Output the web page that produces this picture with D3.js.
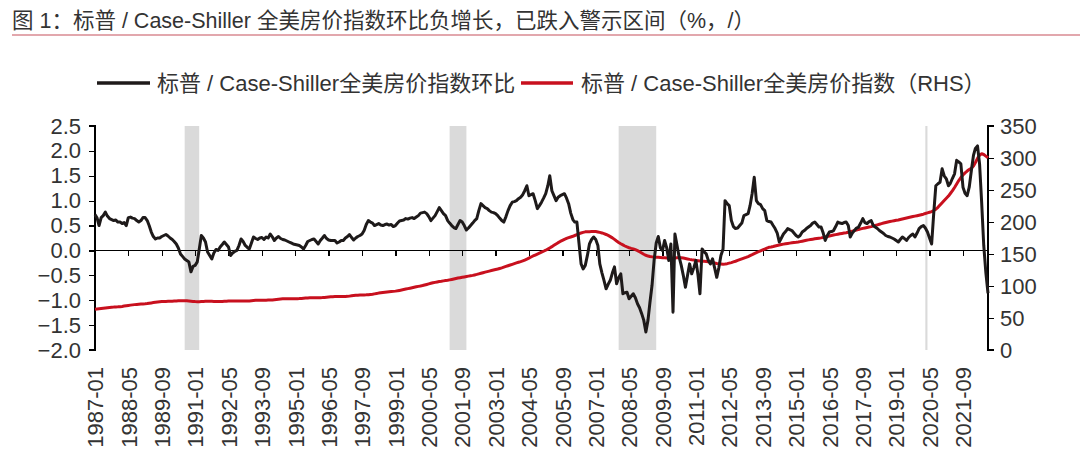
<!DOCTYPE html>
<html>
<head>
	<meta charset="utf-8" />
	<title>标普 / Case-Shiller 全美房价指数</title>
	<script src="https://cdn.jsdelivr.net/npm/d3@7"></script>
<style>
	body { margin: 0; background: #fff; }
	text { font-family: "Liberation Sans", Arial, "Noto Sans CJK SC", sans-serif; fill: #333; }
	.axis path, .axis line { stroke: #000; stroke-width: 1.3; shape-rendering: crispEdges; }
	.axis text { font-size: 22px; fill: #333; }
</style>
</head>
<body>
<script>
// serie mensual desde 1987-01 hasta 2022-09
var firstMonth = "1987-01";

// 环比 (%), un valor por mes
var momChange = [
	0.72, 0.65, 0.50, 0.66, 0.70, 0.77, 0.69, 0.64, 0.62, 0.60, 0.61, 0.57,
	0.57, 0.54, 0.56, 0.50, 0.66, 0.67, 0.65, 0.64, 0.60, 0.57, 0.60, 0.66,
	0.66, 0.60, 0.50, 0.37, 0.28, 0.23, 0.25, 0.25, 0.28, 0.30, 0.32, 0.29,
	0.25, 0.22, 0.18, 0.13, 0.05, -0.07, -0.12, -0.17, -0.20, -0.23, -0.43, -0.32,
	-0.30, -0.23, 0.02, 0.30, 0.25, 0.17, -0.03, -0.10, -0.17, -0.05, 0.02, 0.00,
	0.07, 0.12, 0.17, 0.12, 0.07, -0.10, -0.05, -0.02, 0.00, 0.10, 0.23, 0.18,
	0.10, 0.06, 0.03, 0.15, 0.27, 0.24, 0.22, 0.25, 0.26, 0.22, 0.27, 0.25,
	0.33, 0.27, 0.20, 0.25, 0.28, 0.24, 0.22, 0.21, 0.19, 0.17, 0.15, 0.13,
	0.12, 0.11, 0.10, 0.07, 0.03, 0.10, 0.18, 0.20, 0.22, 0.23, 0.18, 0.13,
	0.20, 0.25, 0.30, 0.24, 0.21, 0.20, 0.20, 0.20, 0.15, 0.17, 0.20, 0.20,
	0.25, 0.28, 0.32, 0.26, 0.21, 0.25, 0.28, 0.30, 0.33, 0.40, 0.52, 0.60,
	0.57, 0.55, 0.50, 0.52, 0.54, 0.51, 0.50, 0.52, 0.53, 0.51, 0.52, 0.48,
	0.50, 0.55, 0.59, 0.60, 0.61, 0.64, 0.63, 0.65, 0.66, 0.64, 0.67, 0.70,
	0.75, 0.76, 0.77, 0.74, 0.68, 0.60, 0.65, 0.70, 0.78, 0.86, 0.80, 0.74,
	0.70, 0.60, 0.55, 0.50, 0.46, 0.44, 0.52, 0.60, 0.57, 0.50, 0.41, 0.45,
	0.50, 0.55, 0.60, 0.64, 0.80, 0.94, 0.90, 0.86, 0.84, 0.80, 0.77, 0.76,
	0.74, 0.70, 0.65, 0.60, 0.57, 0.68, 0.80, 0.90, 0.97, 0.98, 1.00, 1.04,
	1.07, 1.12, 1.20, 1.30, 1.10, 1.12, 1.14, 1.00, 0.84, 0.90, 0.97, 1.05,
	1.14, 1.30, 1.50, 1.20, 1.10, 1.00, 1.07, 1.10, 1.12, 1.14, 1.05, 0.94,
	0.75, 0.62, 0.57, 0.57, 0.15, -0.27, -0.37, -0.30, -0.10, 0.13, 0.22, 0.27,
	0.22, 0.10, -0.27, -0.45, -0.60, -0.77, -0.68, -0.60, -0.45, -0.33, -0.67, -0.55,
	-0.47, -0.87, -0.85, -0.84, -0.97, -0.92, -0.87, -0.95, -1.07, -1.15, -1.27, -1.40,
	-1.64, -1.40, -1.05, -0.70, -0.20, 0.15, 0.28, 0.05, 0.00, 0.20, 0.05, -0.20,
	0.13, -1.24, 0.33, 0.10, -0.13, -0.30, -0.50, -0.74, -0.50, -0.27, -0.47, -0.35,
	-0.20, -0.50, -0.87, 0.03, -0.03, -0.07, -0.20, -0.27, -0.17, -0.35, -0.54, -0.35,
	-0.10, 0.03, 1.00, 0.94, 0.90, 0.60, 0.48, 0.44, 0.45, 0.50, 0.55, 0.70,
	0.72, 0.74, 0.90, 1.15, 1.47, 1.00, 0.94, 0.92, 0.84, 0.80, 0.60, 0.58,
	0.57, 0.50, 0.44, 0.35, 0.17, 0.25, 0.33, 0.38, 0.44, 0.42, 0.40, 0.35,
	0.30, 0.27, 0.30, 0.37, 0.40, 0.44, 0.47, 0.50, 0.55, 0.57, 0.52, 0.47,
	0.47, 0.35, 0.20, 0.30, 0.37, 0.38, 0.40, 0.48, 0.57, 0.55, 0.54, 0.56,
	0.57, 0.50, 0.27, 0.35, 0.40, 0.45, 0.47, 0.55, 0.64, 0.56, 0.54, 0.58,
	0.60, 0.50, 0.47, 0.44, 0.40, 0.37, 0.34, 0.30, 0.28, 0.27, 0.25, 0.23,
	0.20, 0.17, 0.22, 0.27, 0.24, 0.20, 0.26, 0.30, 0.33, 0.27, 0.35, 0.44,
	0.48, 0.50, 0.45, 0.37, 0.25, 0.13, 0.74, 1.30, 1.34, 1.37, 1.64, 1.50,
	1.44, 1.30, 1.35, 1.45, 1.54, 1.81, 1.78, 1.74, 1.27, 1.15, 1.10, 1.27,
	1.60, 1.91, 2.05, 2.10, 1.74, 0.95, 0.10, -0.45, -0.86
];

// 指数 (RHS), un valor por mes
var hpiIndex = [
	63.7, 64.1, 64.5, 64.9, 65.3, 65.7, 66.1, 66.4, 66.7, 67.0, 67.2, 67.4,
	67.7, 68.1, 68.6, 69.1, 69.6, 70.1, 70.5, 70.9, 71.2, 71.5, 71.7, 71.9,
	72.2, 72.6, 73.1, 73.6, 74.1, 74.6, 75.0, 75.3, 75.6, 75.8, 75.9, 76.0,
	76.1, 76.3, 76.5, 76.7, 76.9, 77.0, 77.1, 77.0, 76.8, 76.5, 76.2, 75.9,
	75.6, 75.4, 75.4, 75.6, 75.8, 76.0, 76.1, 76.1, 76.0, 75.9, 75.8, 75.7,
	75.7, 75.8, 76.0, 76.2, 76.4, 76.6, 76.7, 76.7, 76.6, 76.5, 76.4, 76.4,
	76.4, 76.5, 76.7, 77.0, 77.3, 77.6, 77.8, 77.9, 77.9, 77.9, 77.9, 78.0,
	78.1, 78.3, 78.6, 79.0, 79.4, 79.7, 79.9, 80.0, 80.0, 80.0, 80.0, 80.0,
	80.0, 80.1, 80.3, 80.6, 80.9, 81.2, 81.4, 81.5, 81.5, 81.5, 81.5, 81.6,
	81.7, 81.9, 82.2, 82.5, 82.8, 83.1, 83.3, 83.4, 83.4, 83.4, 83.4, 83.5,
	83.6, 83.8, 84.2, 84.6, 85.0, 85.4, 85.7, 85.9, 86.0, 86.1, 86.2, 86.4,
	86.8, 87.2, 87.7, 88.3, 88.9, 89.4, 89.9, 90.3, 90.7, 91.0, 91.3, 91.6,
	92.0, 92.5, 93.1, 93.8, 94.5, 95.2, 95.9, 96.6, 97.3, 98.0, 98.7, 99.4,
	100.0, 100.7, 101.5, 102.4, 103.3, 104.2, 105.0, 105.7, 106.3, 106.9, 107.4, 108.0,
	108.5, 109.0, 109.6, 110.3, 111.0, 111.7, 112.4, 113.0, 113.6, 114.2, 114.8, 115.4,
	116.0, 116.6, 117.3, 118.1, 119.0, 119.9, 120.8, 121.7, 122.5, 123.3, 124.1, 124.9,
	125.7, 126.5, 127.4, 128.4, 129.5, 130.6, 131.7, 132.8, 133.9, 135.0, 136.1, 137.1,
	138.1, 139.2, 140.5, 142.0, 143.6, 145.3, 146.9, 148.4, 149.9, 151.3, 152.8, 154.3,
	155.9, 157.6, 159.5, 161.5, 163.6, 165.7, 167.7, 169.6, 171.3, 172.9, 174.3, 175.5,
	176.6, 177.7, 178.9, 180.3, 181.6, 182.9, 183.8, 184.6, 184.8, 184.9, 185.0, 185.0,
	185.0, 184.5, 183.8, 182.9, 181.8, 180.5, 179.0, 177.2, 175.2, 172.8, 170.3, 168.0,
	166.0, 164.2, 162.5, 161.0, 159.8, 158.8, 158.0, 156.8, 155.3, 153.5, 151.5, 149.6,
	148.0, 146.8, 146.0, 145.5, 145.2, 145.0, 144.8, 144.6, 144.3, 144.0, 143.7, 143.5,
	143.5, 143.6, 143.8, 144.0, 144.1, 144.0, 143.6, 143.0, 142.3, 141.6, 141.0, 140.5,
	140.0, 139.5, 139.1, 138.8, 138.5, 138.2, 137.8, 137.3, 136.7, 136.0, 135.3, 134.7,
	134.2, 134.0, 134.3, 134.9, 135.7, 136.6, 137.6, 138.7, 139.9, 141.1, 142.3, 143.5,
	144.7, 146.0, 147.4, 148.9, 150.5, 152.0, 153.5, 155.0, 156.4, 157.8, 159.2, 160.4,
	161.0, 161.8, 162.6, 163.4, 164.1, 164.8, 165.4, 166.0, 166.5, 167.0, 167.4, 167.8,
	168.2, 168.7, 169.3, 170.0, 170.7, 171.4, 172.1, 172.7, 173.2, 173.7, 174.2, 174.7,
	175.2, 175.8, 176.5, 177.3, 178.1, 178.9, 179.6, 180.3, 180.9, 181.5, 182.1, 182.7,
	183.3, 184.0, 184.8, 185.7, 186.6, 187.5, 188.4, 189.2, 190.0, 190.7, 191.4, 192.1,
	192.8, 193.6, 194.5, 195.5, 196.5, 197.5, 198.4, 199.2, 200.0, 200.7, 201.4, 202.0,
	202.6, 203.2, 203.9, 204.7, 205.5, 206.3, 207.1, 207.8, 208.5, 209.2, 209.9, 210.6,
	211.4, 212.2, 213.2, 214.2, 215.2, 216.3, 217.8, 220.0, 223.0, 226.6, 230.2, 233.6,
	237.0, 240.5, 244.5, 249.0, 254.0, 259.5, 264.8, 269.5, 273.5, 276.8, 279.6, 282.0,
	284.0, 287.5, 293.0, 299.5, 304.5, 306.6, 305.5, 303.0, 300.5
];

// etiquetas del eje X (cada 16 meses)
var tickLabels = ["1987-01","1988-05","1989-09","1991-01","1992-05","1993-09","1995-01",
	"1996-05","1997-09","1999-01","2000-05","2001-09","2003-01","2004-05","2005-09",
	"2007-01","2008-05","2009-09","2011-01","2012-05","2013-09","2015-01","2016-05",
	"2017-09","2019-01","2020-05","2021-09"];

var leftTicks = [-2.0, -1.5, -1.0, -0.5, 0.0, 0.5, 1.0, 1.5, 2.0, 2.5];
var rightTicks = [0, 50, 100, 150, 200, 250, 300, 350];

// zonas sombreadas (recesiones)
var recessions = [["1990-08","1991-03"], ["2001-03","2001-11"], ["2007-12","2009-06"], ["2020-03","2020-04"]];

var seriesNames = ["标普 / Case-Shiller全美房价指数环比", "标普 / Case-Shiller全美房价指数（RHS）"];
var title = "图 1：标普 / Case-Shiller 全美房价指数环比负增长，已跌入警示区间（%，/）";
</script>
<script>
var W = 1080, H = 456;
// ojo: "top" es de window, uso otros nombres
var pLeft = 95, pRight = 988, pTop = 126, pBottom = 350;

var parseMonth = d3.timeParse("%Y-%m");
var start = parseMonth(firstMonth);
var data = momChange.map(function(v, i) {
	return { fecha: d3.timeMonth.offset(start, i), mom: v, hpi: hpiIndex[i] };
});

var svg = d3.select("body").append("svg")
	.attr("width", W)
	.attr("height", H);

// titulo y linea roja
svg.append("text")
	.attr("x", 12).attr("y", 28)
	.style("font-size", "21.5px")
	.text(title);
svg.append("line")
	.attr("x1", 12).attr("x2", W)
	.attr("y1", 35).attr("y2", 35)
	.attr("stroke", "#d98a92").attr("stroke-width", 1.5);

// escalas
var x = d3.scaleTime()
	.domain([data[0].fecha, data[data.length - 1].fecha])
	.range([pLeft, pRight]);
var yL = d3.scaleLinear().domain([-2, 2.5]).range([pBottom, pTop]);
var yR = d3.scaleLinear().domain([0, 350]).range([pBottom, pTop]);

// sombreado
svg.selectAll("rect.rec")
	.data(recessions)
	.enter()
	.append("rect")
	.attr("class", "rec")
	.attr("x", function(d) { return x(parseMonth(d[0])); })
	.attr("width", function(d) { return Math.max(2, x(parseMonth(d[1])) - x(parseMonth(d[0]))); })
	.attr("y", pTop)
	.attr("height", pBottom - pTop)
	.attr("fill", "#dadada");

// eje izquierdo
svg.append("g")
	.attr("class", "axis")
	.attr("transform", "translate(" + pLeft + ",0)")
	.call(d3.axisLeft(yL).tickValues(leftTicks).tickSize(6).tickPadding(8).tickFormat(d3.format(".1f")))
	.call(function(g) { g.select(".domain").attr("d", "M-6," + pTop + "H0V" + pBottom + "H-6"); });

// eje derecho
svg.append("g")
	.attr("class", "axis")
	.attr("transform", "translate(" + pRight + ",0)")
	.call(d3.axisRight(yR).tickValues(rightTicks).tickSize(6).tickPadding(6))
	.call(function(g) { g.select(".domain").attr("d", "M6," + pTop + "H0V" + pBottom + "H6"); });

// linea del cero con marcas hacia abajo
var tickDates = tickLabels.map(parseMonth);
svg.append("g")
	.attr("class", "axis")
	.attr("transform", "translate(0," + yL(0) + ")")
	.call(d3.axisBottom(x).tickValues(tickDates).tickSize(6).tickFormat(""))
	.call(function(g) { g.select(".domain").attr("d", "M" + pLeft + ",0H" + pRight); });

// etiquetas del eje X abajo, giradas
svg.append("g")
	.attr("class", "axis")
	.attr("transform", "translate(0," + (pBottom + 17) + ")")
	.call(d3.axisBottom(x).tickValues(tickDates).tickSize(0).tickFormat(d3.timeFormat("%Y-%m")))
	.call(function(g) { g.select(".domain").remove(); })
	.selectAll("text")
	.attr("transform", "rotate(-90)")
	.attr("x", 0).attr("y", 0).attr("dy", "0.35em")
	.style("text-anchor", "end");

// lineas
var lineMom = d3.line()
	.x(function(d) { return x(d.fecha); })
	.y(function(d) { return yL(d.mom); });
var lineHpi = d3.line()
	.x(function(d) { return x(d.fecha); })
	.y(function(d) { return yR(d.hpi); });

svg.append("path")
	.datum(data)
	.attr("fill", "none")
	.attr("stroke", "#c8101e")
	.attr("stroke-width", 3)
	.attr("stroke-linejoin", "round")
	.attr("d", lineHpi);

svg.append("path")
	.datum(data)
	.attr("fill", "none")
	.attr("stroke", "#1e1a1a")
	.attr("stroke-width", 3)
	.attr("stroke-linejoin", "round")
	.attr("d", lineMom);

// leyenda
var leg = [
	{ x1: 97, x2: 150, tx: 157, color: "#1e1a1a", name: seriesNames[0] },
	{ x1: 521, x2: 573, tx: 581, color: "#c8101e", name: seriesNames[1] }
];
var lg = svg.selectAll("g.leg")
	.data(leg)
	.enter()
	.append("g")
	.attr("class", "leg");
lg.append("line")
	.attr("x1", function(d) { return d.x1; })
	.attr("x2", function(d) { return d.x2; })
	.attr("y1", 83).attr("y2", 83)
	.attr("stroke", function(d) { return d.color; })
	.attr("stroke-width", 3.5);
lg.append("text")
	.attr("x", function(d) { return d.tx; })
	.attr("y", 91)
	.style("font-size", "22px")
	.text(function(d) { return d.name; });
</script>
</body>
</html>
